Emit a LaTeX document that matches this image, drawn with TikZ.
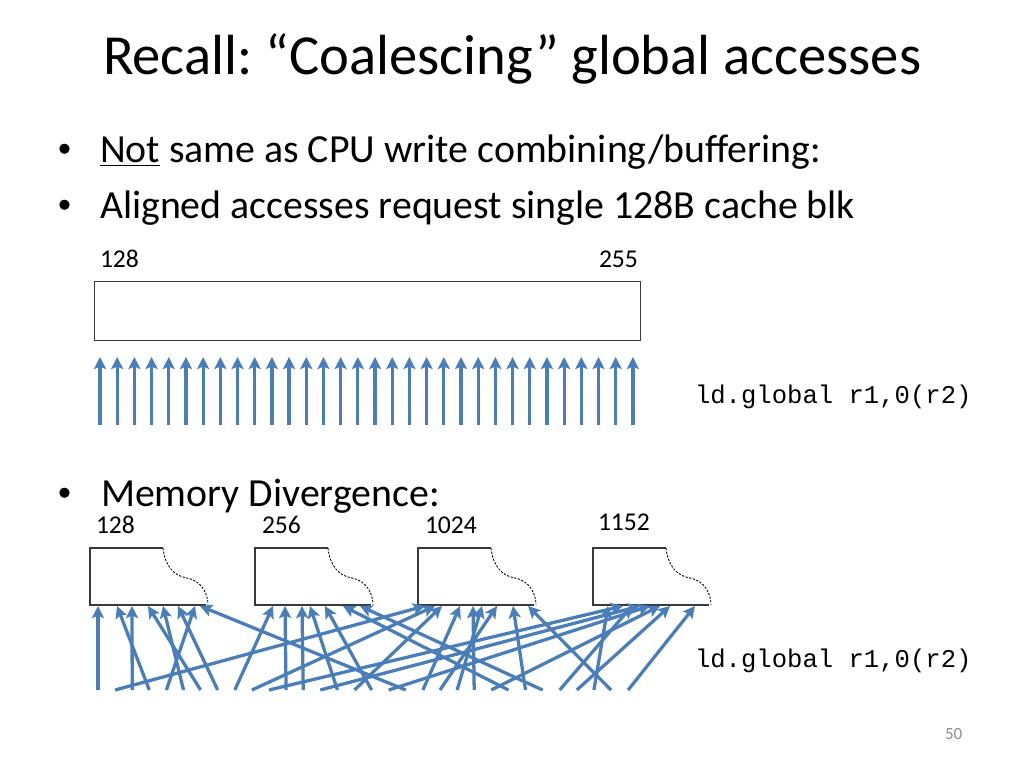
\documentclass[tikz,border=0pt]{standalone}
\usepackage{fontspec}
\setmainfont{Carlito}
\newfontfamily\monof{Liberation Mono}
\newfontfamily\bulf{Liberation Sans}
\usetikzlibrary{arrows.meta}
\definecolor{arr}{HTML}{4A7EBB}
\definecolor{pgnum}{HTML}{8C8C8C}
\definecolor{edge}{HTML}{3A3A3A}
\frenchspacing
\tikzset{
  acc/.style={draw=arr, line width=2.3pt, -{Stealth[length=8.5pt,width=8.5pt,inset=1.8pt]}},
  txt/.style={anchor=base west, inner sep=0pt, outer sep=0pt},
  ttl/.style={txt, font=\fontsize{39.8}{48}\selectfont},
  bul/.style={txt, font=\fontsize{28}{34}\selectfont},
  dot/.style={txt, font=\bulf\fontsize{26}{30}\selectfont},
  num/.style={txt, font=\fontsize{18}{22}\selectfont},
  code/.style={txt, font=\monof\fontsize{18}{22}\selectfont},
  blkedge/.style={draw=edge, line width=0.9pt},
  tear/.style={draw=black, line width=0.6pt, dash pattern=on 1.6pt off 1pt},
}
\begin{document}
\begin{tikzpicture}[x=0.703125pt, y=-0.703125pt]
\useasboundingbox (0,0) rectangle (1024,768);

% title and bullets
\node[ttl] (title) at (103,75) {Recall: “Coalescing” global accesses};
\node[dot] (b1dot) at (58,162) {•};
\node[bul] (b1) at (100,163) {\underline{Not} same as CPU write combining/buffering:};
\node[dot] (b2dot) at (58,218) {•};
\node[bul] (b2) at (100,219) {Aligned accesses request single 128B cache blk};
\node[dot] (b3dot) at (58,505) {•};
\node[bul] (b3) at (101,506) {Memory Divergence:};

% aligned case
\node[num] (n128) at (100,268) {128};
\node[num] (n255) at (599,268) {255};
\node[blkedge, fill=white, anchor=north west, minimum width=383.9pt, minimum height=41.5pt, inner sep=0pt] (cache) at (94,281) {};
\foreach \i in {0,...,31} {
  \pgfmathsetmacro\xx{100+17.19*\i}
  \coordinate (us\i) at (\xx,425);
  \coordinate (ut\i) at (\xx,357);
  \draw[acc] (us\i) -- (ut\i);
}
\node[code] (ld1) at (695,403) {ld.global r1,0(r2)};

% divergent case
\node[num] (m128) at (96,533) {128};
\node[num] (m256) at (262,533) {256};
\node[num] (m1024) at (425,533) {1024};
\node[num] (m1152) at (598,530) {1152};
\foreach \x/\n in {90/A,255/B,418/C,593/D} {
  \coordinate (blk\n) at (\x,548);
  \draw[blkedge] (\x+73,548) -- (blk\n) -- (\x,605) -- (\x+116,605);
  \draw[tear] (\x+73,548) .. controls (\x+75,566) and (\x+84,576) .. (\x+97,578)
              .. controls (\x+112,581) and (\x+118,594) .. (\x+118,605);
}
\foreach \i/\t in {0/98,1/425,2/132,3/117,4/195,5/163,6/148,7/178,
                   8/273,9/435,10/623,11/285,12/302,13/640,14/310,15/442,
                   16/325,17/650,18/200,19/460,20/497,21/482,22/473,23/660,
                   24/343,25/513,26/360,27/632,28/670,29/608,30/528,31/695} {
  \pgfmathsetmacro\xx{98+17.1*\i}
  \coordinate (ls\i) at (\xx,690);
  \coordinate (lt\i) at (\t,606);
  \draw[acc] (ls\i) -- (lt\i);
}
\node[code] (ld2) at (695,667) {ld.global r1,0(r2)};

\node[txt, font=\fontsize{12}{14}\selectfont, text=pgnum] (page) at (945,739) {50};
\end{tikzpicture}
\end{document}
